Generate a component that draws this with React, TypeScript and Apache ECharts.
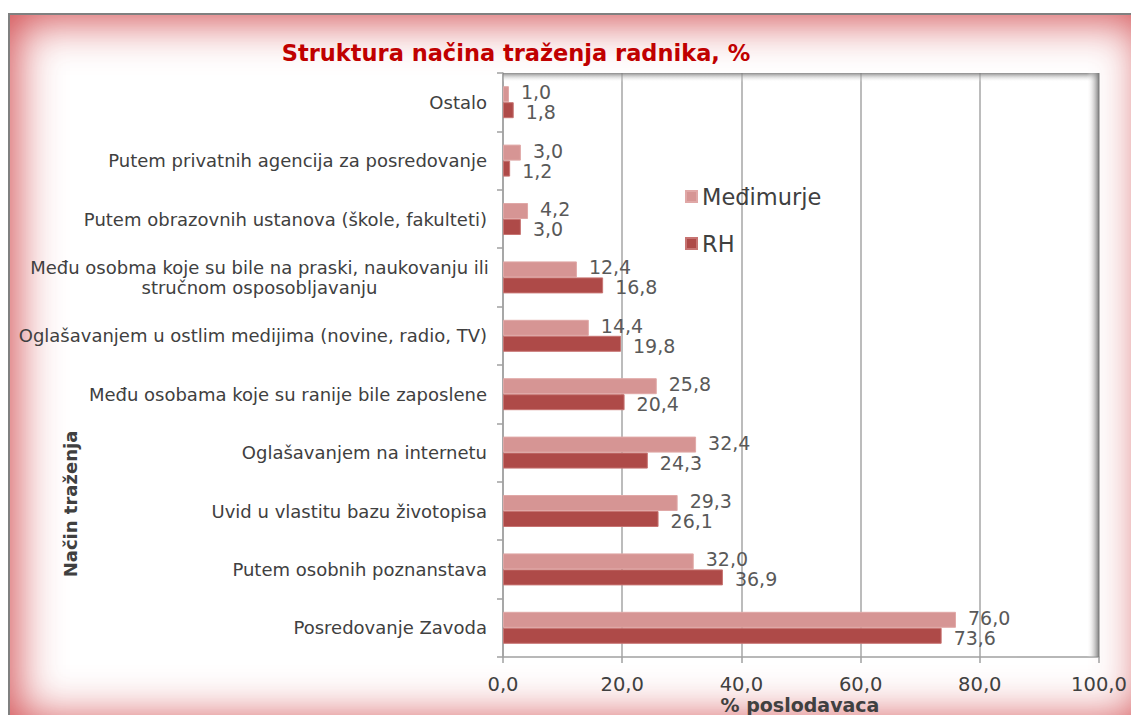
import React, { useEffect, useRef } from "react";
import * as echarts from "echarts";

const categories = [
  "Posredovanje Zavoda",
  "Putem osobnih poznanstava",
  "Uvid u vlastitu bazu životopisa",
  "Oglašavanjem na internetu",
  "Među osobama koje su ranije bile zaposlene",
  "Oglašavanjem u ostlim medijima (novine, radio, TV)",
  "Među osobma koje su bile na praski, naukovanju ili\nstručnom osposobljavanju",
  "Putem obrazovnih ustanova (škole, fakulteti)",
  "Putem privatnih agencija za posredovanje",
  "Ostalo",
];
const medimurje = [76.0, 32.0, 29.3, 32.4, 25.8, 14.4, 12.4, 4.2, 3.0, 1.0];
const rh = [73.6, 36.9, 26.1, 24.3, 20.4, 19.8, 16.8, 3.0, 1.2, 1.8];
const seriesNames = ["Međimurje", "RH"];
const xTicks = { min: 0, max: 100, interval: 20 };

const FONT = "'DejaVu Sans', Verdana, sans-serif";
const fmt = (v: number) => v.toFixed(1).replace(".", ",");

export default function App() {
  const ref = useRef<HTMLDivElement>(null);
  useEffect(() => {
    document.body.style.overflow = "hidden";
    const chart = echarts.init(ref.current!, undefined, { renderer: "svg" });
    const gL = 503, gT = 73, gR = 1099, gB = 657;
    const labelStyle = (dy: number) => ({
      show: true,
      position: "right",
      distance: 12,
      offset: [0, dy],
      fontFamily: FONT,
      fontSize: 19,
      lineHeight: 16,
      color: "#595959",
      formatter: (p: any) => fmt(p.value),
    });
    chart.setOption({
      animation: false,
      backgroundColor: "transparent",
      textStyle: { fontFamily: FONT },
      title: {
        text: "Struktura načina traženja radnika, %",
        left: 511,
        top: 36,
        textAlign: "center",
        textStyle: { fontFamily: FONT, fontSize: 22.5, fontWeight: "bold", color: "#C00000" },
      },
      legend: {
        orient: "vertical",
        left: 680,
        top: 180,
        itemWidth: 11,
        itemHeight: 11,
        itemGap: 24,
        icon: "rect",
        data: seriesNames,
        textStyle: { fontFamily: FONT, fontSize: 22.5, color: "#404040" },
      },
      grid: { left: gL, top: gT, width: gR - gL, height: gB - gT, containLabel: false },
      xAxis: {
        type: "value",
        min: xTicks.min,
        max: xTicks.max,
        interval: xTicks.interval,
        axisLine: { show: true, lineStyle: { color: "#A0A0A0", width: 1.5 } },
        axisTick: { show: true, length: 6, lineStyle: { color: "#A0A0A0", width: 1.5 } },
        splitLine: { show: true, lineStyle: { color: "#A6A6A6", width: 1.5 } },
        axisLabel: {
          formatter: (v: number) => fmt(v),
          fontFamily: FONT,
          fontSize: 19.5,
          color: "#404040",
          margin: 17,
        },
      },
      yAxis: {
        type: "category",
        data: categories,
        axisLine: { show: true, lineStyle: { color: "#A0A0A0", width: 1.5 } },
        axisTick: { show: true, length: 6, lineStyle: { color: "#A0A0A0", width: 1.5 } },
        axisLabel: {
          fontFamily: FONT,
          fontSize: 18,
          color: "#404040",
          margin: 16,
          lineHeight: 20,
          formatter: (v: string) => {
            if (v.indexOf("\n") >= 0) {
              return v.split("\n").map((s) => "{c|" + s + "}").join("\n");
            }
            return v;
          },
          rich: {
            c: { fontFamily: FONT, fontSize: 18, color: "#404040", width: 455, align: "center", lineHeight: 20 },
          },
        },
      },
      series: [
        {
          name: seriesNames[0],
          type: "bar",
          data: medimurje,
          barWidth: 16,
          barGap: "0%",
          itemStyle: { color: "#D69594", borderColor: "#E0A8A7", borderWidth: 1 },
          label: labelStyle(-2),
        },
        {
          name: seriesNames[1],
          type: "bar",
          data: rh,
          barWidth: 16,
          barGap: "0%",
          itemStyle: { color: "#AE4A48", borderColor: "#C77472", borderWidth: 1 },
          label: labelStyle(2),
        },
      ],
      graphic: [
        {
          type: "rect",
          z: 5,
          silent: true,
          shape: { x: gL, y: gT, width: gR - gL, height: 9 },
          style: {
            fill: new echarts.graphic.LinearGradient(0, 0, 0, 1, [
              { offset: 0, color: "rgba(120,120,120,0.85)" },
              { offset: 1, color: "rgba(255,255,255,0)" },
            ]),
          },
        },
        {
          type: "rect",
          z: 5,
          silent: true,
          shape: { x: gR - 12, y: gT, width: 12, height: gB - gT },
          style: {
            fill: new echarts.graphic.LinearGradient(0, 0, 1, 0, [
              { offset: 0, color: "rgba(255,255,255,0)" },
              { offset: 1, color: "rgba(120,120,120,0.95)" },
            ]),
          },
        },
        {
          type: "text",
          z: 5,
          x: 70,
          y: 504,
          rotation: Math.PI / 2,
          style: {
            text: "Način traženja",
            fontFamily: FONT,
            fontSize: 18,
            fontWeight: "bold",
            fill: "#404040",
            align: "center",
            verticalAlign: "middle",
          },
        },
        {
          type: "text",
          z: 5,
          x: 800,
          y: 705,
          style: {
            text: "% poslodavaca",
            fontFamily: FONT,
            fontSize: 19,
            fontWeight: "bold",
            fill: "#404040",
            align: "center",
            verticalAlign: "middle",
          },
        },
      ],
    });
    return () => chart.dispose();
  }, []);

  return (
    <div style={{ position: "fixed", left: 0, top: 0, width: 1131, height: 715, overflow: "hidden", background: "#fff" }}>
      <div
        style={{
          position: "absolute",
          left: 8,
          top: 13,
          width: 1140,
          height: 712,
          borderTop: "2px solid #808080",
          borderLeft: "2px solid #808080",
          boxSizing: "border-box",
          boxShadow: "inset 0 0 45px 6px rgba(205,55,60,0.9)",
          background: "#fff",
        }}
      />
      <div ref={ref} style={{ position: "absolute", left: 0, top: 0, width: 1131, height: 715 }} />
    </div>
  );
}
